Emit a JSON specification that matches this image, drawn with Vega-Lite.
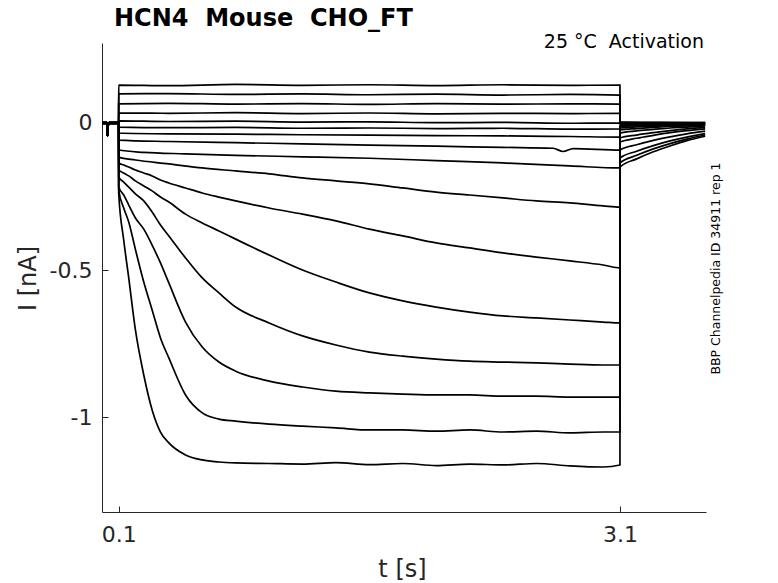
{
  "$schema": "https://vega.github.io/schema/vega-lite/v6.json",
  "width": 604,
  "height": 469,
  "autosize": {"type": "none"},
  "padding": {"left": 102, "top": 43, "right": 72, "bottom": 71},
  "background": "white",
  "config": {
    "view": {"stroke": null},
    "font": "DejaVu Sans",
    "axis": {
      "grid": false,
      "domainColor": "#262626", "domainWidth": 1,
      "tickColor": "#262626", "tickSize": -6,
      "labelFont": "DejaVu Sans", "labelFontSize": 22, "labelColor": "#262626",
      "titleFont": "DejaVu Sans", "titleFontSize": 24, "titleFontWeight": "normal", "titleColor": "#262626"
    }
  },
  "data": {"values": [
    {"s":1,"t":0,"v":0.002},{"s":1,"t":0.03,"v":0.002},{"s":1,"t":0.033,"v":-0.045},{"s":1,"t":0.037,"v":-0.008},{"s":1,"t":0.044,"v":0.002},{"s":1,"t":0.0995,"v":0.002},
    {"s":1,"t":0.1,"v":0.129},{"s":1,"t":0.4,"v":0.127},{"s":1,"t":0.8,"v":0.131},{"s":1,"t":1.2,"v":0.128},{"s":1,"t":1.6,"v":0.130},{"s":1,"t":2.0,"v":0.127},{"s":1,"t":2.4,"v":0.130},{"s":1,"t":2.8,"v":0.128},{"s":1,"t":3.1,"v":0.129},
    {"s":1,"t":3.1005,"v":0.004},{"s":1,"t":3.35,"v":0.002},{"s":1,"t":3.61,"v":0.001},

    {"s":2,"t":0,"v":0.001},{"s":2,"t":0.03,"v":0.001},{"s":2,"t":0.033,"v":-0.045},{"s":2,"t":0.037,"v":-0.008},{"s":2,"t":0.044,"v":0.001},{"s":2,"t":0.0995,"v":0.001},
    {"s":2,"t":0.1,"v":0.099},{"s":2,"t":0.4,"v":0.100},{"s":2,"t":0.8,"v":0.097},{"s":2,"t":1.2,"v":0.099},{"s":2,"t":1.6,"v":0.096},{"s":2,"t":2.0,"v":0.098},{"s":2,"t":2.4,"v":0.095},{"s":2,"t":2.8,"v":0.097},{"s":2,"t":3.1,"v":0.095},
    {"s":2,"t":3.1005,"v":0.002},{"s":2,"t":3.35,"v":0.001},{"s":2,"t":3.61,"v":0.001},

    {"s":3,"t":0,"v":0.0},{"s":3,"t":0.03,"v":0.0},{"s":3,"t":0.033,"v":-0.045},{"s":3,"t":0.037,"v":-0.008},{"s":3,"t":0.044,"v":0.0},{"s":3,"t":0.0995,"v":0.0},
    {"s":3,"t":0.1,"v":0.065},{"s":3,"t":0.4,"v":0.067},{"s":3,"t":0.8,"v":0.064},{"s":3,"t":1.2,"v":0.066},{"s":3,"t":1.6,"v":0.063},{"s":3,"t":2.0,"v":0.066},{"s":3,"t":2.4,"v":0.064},{"s":3,"t":2.8,"v":0.065},{"s":3,"t":3.1,"v":0.064},
    {"s":3,"t":3.1005,"v":0.0},{"s":3,"t":3.35,"v":0.0},{"s":3,"t":3.61,"v":0.0},

    {"s":4,"t":0,"v":-0.001},{"s":4,"t":0.03,"v":-0.001},{"s":4,"t":0.033,"v":-0.045},{"s":4,"t":0.037,"v":-0.008},{"s":4,"t":0.044,"v":-0.001},{"s":4,"t":0.0995,"v":-0.001},
    {"s":4,"t":0.1,"v":0.034},{"s":4,"t":0.4,"v":0.033},{"s":4,"t":0.8,"v":0.035},{"s":4,"t":1.2,"v":0.032},{"s":4,"t":1.6,"v":0.034},{"s":4,"t":2.0,"v":0.031},{"s":4,"t":2.4,"v":0.033},{"s":4,"t":2.8,"v":0.032},{"s":4,"t":3.1,"v":0.033},
    {"s":4,"t":3.1005,"v":-0.002},{"s":4,"t":3.35,"v":-0.001},{"s":4,"t":3.61,"v":-0.001},

    {"s":5,"t":0,"v":-0.002},{"s":5,"t":0.03,"v":-0.002},{"s":5,"t":0.033,"v":-0.045},{"s":5,"t":0.037,"v":-0.008},{"s":5,"t":0.044,"v":-0.002},{"s":5,"t":0.0995,"v":-0.002},
    {"s":5,"t":0.1,"v":0.007},{"s":5,"t":0.4,"v":0.005},{"s":5,"t":0.8,"v":0.006},{"s":5,"t":1.2,"v":0.003},{"s":5,"t":1.6,"v":0.004},{"s":5,"t":2.0,"v":0.001},{"s":5,"t":2.4,"v":0.002},{"s":5,"t":2.8,"v":-0.001},{"s":5,"t":3.1,"v":0.0},
    {"s":5,"t":3.1005,"v":-0.005},{"s":5,"t":3.35,"v":-0.003},{"s":5,"t":3.61,"v":-0.002},

    {"s":6,"t":0,"v":0.001},{"s":6,"t":0.03,"v":0.001},{"s":6,"t":0.033,"v":-0.045},{"s":6,"t":0.037,"v":-0.008},{"s":6,"t":0.044,"v":0.001},{"s":6,"t":0.0995,"v":0.001},
    {"s":6,"t":0.1,"v":-0.014},{"s":6,"t":0.4,"v":-0.016},{"s":6,"t":0.8,"v":-0.015},{"s":6,"t":1.2,"v":-0.018},{"s":6,"t":1.6,"v":-0.017},{"s":6,"t":2.0,"v":-0.019},{"s":6,"t":2.4,"v":-0.018},{"s":6,"t":2.8,"v":-0.021},{"s":6,"t":3.1,"v":-0.020},
    {"s":6,"t":3.1005,"v":-0.008},{"s":6,"t":3.35,"v":-0.005},{"s":6,"t":3.61,"v":-0.002},

    {"s":7,"t":0,"v":0.0},{"s":7,"t":0.03,"v":0.0},{"s":7,"t":0.033,"v":-0.045},{"s":7,"t":0.037,"v":-0.008},{"s":7,"t":0.044,"v":0.0},{"s":7,"t":0.0995,"v":0.0},
    {"s":7,"t":0.1,"v":-0.034},{"s":7,"t":0.4,"v":-0.037},{"s":7,"t":0.8,"v":-0.038},{"s":7,"t":1.2,"v":-0.040},{"s":7,"t":1.6,"v":-0.041},{"s":7,"t":2.0,"v":-0.043},{"s":7,"t":2.4,"v":-0.044},{"s":7,"t":2.8,"v":-0.046},{"s":7,"t":3.1,"v":-0.048},
    {"s":7,"t":3.1005,"v":-0.012},{"s":7,"t":3.35,"v":-0.007},{"s":7,"t":3.61,"v":-0.004},

    {"s":8,"t":0,"v":-0.001},{"s":8,"t":0.03,"v":-0.001},{"s":8,"t":0.033,"v":-0.045},{"s":8,"t":0.037,"v":-0.008},{"s":8,"t":0.044,"v":-0.001},{"s":8,"t":0.0995,"v":-0.001},
    {"s":8,"t":0.1,"v":-0.058},{"s":8,"t":0.4,"v":-0.063},{"s":8,"t":0.8,"v":-0.067},{"s":8,"t":1.2,"v":-0.071},{"s":8,"t":1.6,"v":-0.075},{"s":8,"t":2.0,"v":-0.079},{"s":8,"t":2.4,"v":-0.083},{"s":8,"t":2.7,"v":-0.086},{"s":8,"t":2.76,"v":-0.097},{"s":8,"t":2.82,"v":-0.087},{"s":8,"t":3.1,"v":-0.092},
    {"s":8,"t":3.1005,"v":-0.017},{"s":8,"t":3.35,"v":-0.010},{"s":8,"t":3.61,"v":-0.005},

    {"s":9,"t":0,"v":0.002},{"s":9,"t":0.03,"v":0.002},{"s":9,"t":0.033,"v":-0.045},{"s":9,"t":0.037,"v":-0.008},{"s":9,"t":0.044,"v":0.002},{"s":9,"t":0.0995,"v":0.002},
    {"s":9,"t":0.1,"v":-0.092},{"s":9,"t":0.25,"v":-0.100},{"s":9,"t":0.5,"v":-0.105},{"s":9,"t":0.8,"v":-0.110},{"s":9,"t":1.2,"v":-0.115},{"s":9,"t":1.6,"v":-0.120},{"s":9,"t":2.0,"v":-0.128},{"s":9,"t":2.4,"v":-0.136},{"s":9,"t":2.8,"v":-0.146},{"s":9,"t":3.1,"v":-0.153},
    {"s":9,"t":3.1005,"v":-0.024},{"s":9,"t":3.2,"v":-0.019},{"s":9,"t":3.3,"v":-0.015},{"s":9,"t":3.4,"v":-0.012},{"s":9,"t":3.5,"v":-0.010},{"s":9,"t":3.61,"v":-0.007},

    {"s":10,"t":0,"v":-0.002},{"s":10,"t":0.03,"v":-0.002},{"s":10,"t":0.033,"v":-0.045},{"s":10,"t":0.037,"v":-0.008},{"s":10,"t":0.044,"v":-0.002},{"s":10,"t":0.0995,"v":-0.002},
    {"s":10,"t":0.1,"v":-0.116},{"s":10,"t":0.2,"v":-0.126},{"s":10,"t":0.4,"v":-0.139},{"s":10,"t":0.6,"v":-0.153},{"s":10,"t":0.8,"v":-0.163},{"s":10,"t":1.0,"v":-0.173},{"s":10,"t":1.2,"v":-0.187},{"s":10,"t":1.4,"v":-0.197},{"s":10,"t":1.6,"v":-0.207},{"s":10,"t":1.8,"v":-0.221},{"s":10,"t":2.0,"v":-0.235},{"s":10,"t":2.2,"v":-0.245},{"s":10,"t":2.4,"v":-0.255},{"s":10,"t":2.6,"v":-0.265},{"s":10,"t":2.8,"v":-0.272},{"s":10,"t":3.0,"v":-0.282},{"s":10,"t":3.1,"v":-0.286},
    {"s":10,"t":3.1005,"v":-0.034},{"s":10,"t":3.2,"v":-0.027},{"s":10,"t":3.3,"v":-0.022},{"s":10,"t":3.4,"v":-0.017},{"s":10,"t":3.5,"v":-0.014},{"s":10,"t":3.61,"v":-0.010},

    {"s":11,"t":0,"v":0.0},{"s":11,"t":0.03,"v":0.0},{"s":11,"t":0.033,"v":-0.045},{"s":11,"t":0.037,"v":-0.008},{"s":11,"t":0.044,"v":0.0},{"s":11,"t":0.0995,"v":0.0},
    {"s":11,"t":0.1,"v":-0.136},{"s":11,"t":0.13,"v":-0.143},{"s":11,"t":0.16,"v":-0.150},{"s":11,"t":0.2,"v":-0.160},{"s":11,"t":0.25,"v":-0.170},{"s":11,"t":0.3,"v":-0.180},{"s":11,"t":0.35,"v":-0.194},{"s":11,"t":0.4,"v":-0.204},{"s":11,"t":0.5,"v":-0.221},{"s":11,"t":0.6,"v":-0.238},{"s":11,"t":0.7,"v":-0.252},{"s":11,"t":0.8,"v":-0.265},{"s":11,"t":1.0,"v":-0.289},{"s":11,"t":1.2,"v":-0.310},{"s":11,"t":1.4,"v":-0.333},{"s":11,"t":1.6,"v":-0.361},{"s":11,"t":1.8,"v":-0.384},{"s":11,"t":2.0,"v":-0.408},{"s":11,"t":2.2,"v":-0.425},{"s":11,"t":2.4,"v":-0.442},{"s":11,"t":2.6,"v":-0.456},{"s":11,"t":2.8,"v":-0.469},{"s":11,"t":3.0,"v":-0.483},{"s":11,"t":3.1,"v":-0.493},
    {"s":11,"t":3.1005,"v":-0.051},{"s":11,"t":3.2,"v":-0.041},{"s":11,"t":3.3,"v":-0.033},{"s":11,"t":3.4,"v":-0.026},{"s":11,"t":3.5,"v":-0.020},{"s":11,"t":3.61,"v":-0.015},

    {"s":12,"t":0,"v":0.001},{"s":12,"t":0.03,"v":0.001},{"s":12,"t":0.033,"v":-0.045},{"s":12,"t":0.037,"v":-0.008},{"s":12,"t":0.044,"v":0.001},{"s":12,"t":0.0995,"v":0.001},
    {"s":12,"t":0.1,"v":-0.160},{"s":12,"t":0.13,"v":-0.170},{"s":12,"t":0.16,"v":-0.180},{"s":12,"t":0.2,"v":-0.197},{"s":12,"t":0.25,"v":-0.214},{"s":12,"t":0.3,"v":-0.231},{"s":12,"t":0.35,"v":-0.252},{"s":12,"t":0.4,"v":-0.269},{"s":12,"t":0.5,"v":-0.310},{"s":12,"t":0.6,"v":-0.340},{"s":12,"t":0.7,"v":-0.367},{"s":12,"t":0.8,"v":-0.395},{"s":12,"t":1.0,"v":-0.449},{"s":12,"t":1.2,"v":-0.500},{"s":12,"t":1.4,"v":-0.541},{"s":12,"t":1.6,"v":-0.578},{"s":12,"t":1.8,"v":-0.605},{"s":12,"t":2.0,"v":-0.626},{"s":12,"t":2.2,"v":-0.643},{"s":12,"t":2.4,"v":-0.656},{"s":12,"t":2.6,"v":-0.663},{"s":12,"t":2.8,"v":-0.670},{"s":12,"t":3.0,"v":-0.677},{"s":12,"t":3.1,"v":-0.680},
    {"s":12,"t":3.1005,"v":-0.065},{"s":12,"t":3.2,"v":-0.052},{"s":12,"t":3.3,"v":-0.042},{"s":12,"t":3.4,"v":-0.033},{"s":12,"t":3.5,"v":-0.026},{"s":12,"t":3.61,"v":-0.020},

    {"s":13,"t":0,"v":-0.001},{"s":13,"t":0.03,"v":-0.001},{"s":13,"t":0.033,"v":-0.045},{"s":13,"t":0.037,"v":-0.008},{"s":13,"t":0.044,"v":-0.001},{"s":13,"t":0.0995,"v":-0.001},
    {"s":13,"t":0.1,"v":-0.184},{"s":13,"t":0.13,"v":-0.201},{"s":13,"t":0.16,"v":-0.218},{"s":13,"t":0.2,"v":-0.241},{"s":13,"t":0.25,"v":-0.265},{"s":13,"t":0.3,"v":-0.303},{"s":13,"t":0.35,"v":-0.347},{"s":13,"t":0.4,"v":-0.384},{"s":13,"t":0.5,"v":-0.459},{"s":13,"t":0.6,"v":-0.527},{"s":13,"t":0.7,"v":-0.578},{"s":13,"t":0.8,"v":-0.626},{"s":13,"t":1.0,"v":-0.680},{"s":13,"t":1.2,"v":-0.724},{"s":13,"t":1.4,"v":-0.755},{"s":13,"t":1.6,"v":-0.779},{"s":13,"t":1.8,"v":-0.793},{"s":13,"t":2.0,"v":-0.803},{"s":13,"t":2.2,"v":-0.810},{"s":13,"t":2.4,"v":-0.813},{"s":13,"t":2.6,"v":-0.816},{"s":13,"t":2.8,"v":-0.820},{"s":13,"t":3.0,"v":-0.823},{"s":13,"t":3.1,"v":-0.823},
    {"s":13,"t":3.1005,"v":-0.092},{"s":13,"t":3.2,"v":-0.074},{"s":13,"t":3.3,"v":-0.059},{"s":13,"t":3.4,"v":-0.047},{"s":13,"t":3.5,"v":-0.037},{"s":13,"t":3.61,"v":-0.028},

    {"s":14,"t":0,"v":0.0},{"s":14,"t":0.03,"v":0.0},{"s":14,"t":0.033,"v":-0.045},{"s":14,"t":0.037,"v":-0.008},{"s":14,"t":0.044,"v":0.0},{"s":14,"t":0.0995,"v":0.0},
    {"s":14,"t":0.1,"v":-0.218},{"s":14,"t":0.13,"v":-0.245},{"s":14,"t":0.16,"v":-0.279},{"s":14,"t":0.2,"v":-0.323},{"s":14,"t":0.25,"v":-0.361},{"s":14,"t":0.3,"v":-0.415},{"s":14,"t":0.35,"v":-0.476},{"s":14,"t":0.4,"v":-0.544},{"s":14,"t":0.5,"v":-0.677},{"s":14,"t":0.6,"v":-0.762},{"s":14,"t":0.7,"v":-0.813},{"s":14,"t":0.8,"v":-0.844},{"s":14,"t":1.0,"v":-0.878},{"s":14,"t":1.2,"v":-0.898},{"s":14,"t":1.4,"v":-0.912},{"s":14,"t":1.6,"v":-0.918},{"s":14,"t":1.8,"v":-0.922},{"s":14,"t":2.0,"v":-0.925},{"s":14,"t":2.2,"v":-0.925},{"s":14,"t":2.4,"v":-0.929},{"s":14,"t":2.6,"v":-0.929},{"s":14,"t":2.8,"v":-0.932},{"s":14,"t":3.0,"v":-0.932},{"s":14,"t":3.1,"v":-0.932},
    {"s":14,"t":3.1005,"v":-0.119},{"s":14,"t":3.2,"v":-0.096},{"s":14,"t":3.3,"v":-0.077},{"s":14,"t":3.4,"v":-0.061},{"s":14,"t":3.5,"v":-0.048},{"s":14,"t":3.61,"v":-0.036},

    {"s":15,"t":0,"v":-0.002},{"s":15,"t":0.03,"v":-0.002},{"s":15,"t":0.033,"v":-0.045},{"s":15,"t":0.037,"v":-0.008},{"s":15,"t":0.044,"v":-0.002},{"s":15,"t":0.0995,"v":-0.002},
    {"s":15,"t":0.1,"v":-0.228},{"s":15,"t":0.13,"v":-0.289},{"s":15,"t":0.16,"v":-0.337},{"s":15,"t":0.2,"v":-0.430},{"s":15,"t":0.25,"v":-0.541},{"s":15,"t":0.3,"v":-0.636},{"s":15,"t":0.35,"v":-0.731},{"s":15,"t":0.4,"v":-0.799},{"s":15,"t":0.5,"v":-0.925},{"s":15,"t":0.6,"v":-0.986},{"s":15,"t":0.7,"v":-1.007},{"s":15,"t":0.8,"v":-1.014},{"s":15,"t":1.0,"v":-1.024},{"s":15,"t":1.2,"v":-1.031},{"s":15,"t":1.4,"v":-1.037},{"s":15,"t":1.6,"v":-1.044},{"s":15,"t":1.8,"v":-1.044},{"s":15,"t":2.0,"v":-1.048},{"s":15,"t":2.2,"v":-1.044},{"s":15,"t":2.4,"v":-1.051},{"s":15,"t":2.6,"v":-1.048},{"s":15,"t":2.8,"v":-1.054},{"s":15,"t":3.0,"v":-1.051},{"s":15,"t":3.1,"v":-1.051},
    {"s":15,"t":3.1005,"v":-0.136},{"s":15,"t":3.2,"v":-0.110},{"s":15,"t":3.3,"v":-0.088},{"s":15,"t":3.4,"v":-0.070},{"s":15,"t":3.5,"v":-0.055},{"s":15,"t":3.61,"v":-0.041},

    {"s":16,"t":0,"v":0.001},{"s":16,"t":0.03,"v":0.001},{"s":16,"t":0.033,"v":-0.045},{"s":16,"t":0.037,"v":-0.008},{"s":16,"t":0.044,"v":0.001},{"s":16,"t":0.0995,"v":0.001},
    {"s":16,"t":0.1,"v":-0.238},{"s":16,"t":0.13,"v":-0.398},{"s":16,"t":0.16,"v":-0.527},{"s":16,"t":0.2,"v":-0.704},{"s":16,"t":0.25,"v":-0.857},{"s":16,"t":0.3,"v":-0.976},{"s":16,"t":0.35,"v":-1.051},{"s":16,"t":0.4,"v":-1.088},{"s":16,"t":0.5,"v":-1.129},{"s":16,"t":0.6,"v":-1.146},{"s":16,"t":0.7,"v":-1.153},{"s":16,"t":0.8,"v":-1.156},{"s":16,"t":1.0,"v":-1.158},{"s":16,"t":1.2,"v":-1.160},{"s":16,"t":1.4,"v":-1.155},{"s":16,"t":1.6,"v":-1.162},{"s":16,"t":1.8,"v":-1.158},{"s":16,"t":2.0,"v":-1.165},{"s":16,"t":2.2,"v":-1.160},{"s":16,"t":2.4,"v":-1.163},{"s":16,"t":2.6,"v":-1.158},{"s":16,"t":2.8,"v":-1.166},{"s":16,"t":3.0,"v":-1.170},{"s":16,"t":3.1,"v":-1.163},
    {"s":16,"t":3.1005,"v":-0.150},{"s":16,"t":3.2,"v":-0.122},{"s":16,"t":3.3,"v":-0.098},{"s":16,"t":3.4,"v":-0.078},{"s":16,"t":3.5,"v":-0.060},{"s":16,"t":3.61,"v":-0.045}
  ]},
  "layer": [
    {
      "mark": {"type": "line", "color": "black", "strokeWidth": 1.7, "interpolate": "monotone"},
      "encoding": {
        "x": {
          "field": "t", "type": "quantitative",
          "scale": {"domain": [0, 3.615], "nice": false, "zero": false},
          "axis": {
            "values": [0.1, 3.1], "labelExpr": "'' + datum.value", "labelPadding": 18,
            "title": "t [s]", "titleX": 300, "titleY": 64, "titleBaseline": "alphabetic", "titleAlign": "center"
          }
        },
        "y": {
          "field": "v", "type": "quantitative",
          "scale": {"domain": [-1.323, 0.272], "nice": false, "zero": false},
          "axis": {
            "values": [-1, -0.5, 0], "labelExpr": "'' + datum.value", "labelPadding": 16,
            "title": "I [nA]", "titleX": -67, "titleY": 235, "titleAngle": -90,
            "titleBaseline": "alphabetic", "titleAlign": "center"
          }
        },
        "detail": {"field": "s", "type": "nominal"}
      }
    },
    {
      "data": {"values": [{}]},
      "mark": {"type": "text", "text": "HCN4 \u00a0Mouse \u00a0CHO_FT", "align": "left", "baseline": "alphabetic", "font": "DejaVu Sans", "fontSize": 24, "fontWeight": "bold", "color": "black"},
      "encoding": {
        "x": {"datum": 0.072, "type": "quantitative"},
        "y": {"datum": 0.33, "type": "quantitative"}
      }
    },
    {
      "data": {"values": [{}]},
      "mark": {"type": "text", "text": "25 °C \u00a0Activation", "align": "right", "baseline": "alphabetic", "font": "DejaVu Sans", "fontSize": 19, "color": "black"},
      "encoding": {
        "x": {"datum": 3.603, "type": "quantitative"},
        "y": {"datum": 0.255, "type": "quantitative"}
      }
    },
    {
      "data": {"values": [{}]},
      "mark": {"type": "text", "text": "BBP Channelpedia ID 34911 rep 1", "align": "center", "baseline": "middle", "angle": 270, "font": "DejaVu Sans", "fontSize": 12.5, "color": "black"},
      "encoding": {
        "x": {"datum": 3.675, "type": "quantitative"},
        "y": {"datum": -0.495, "type": "quantitative"}
      }
    }
  ]
}
